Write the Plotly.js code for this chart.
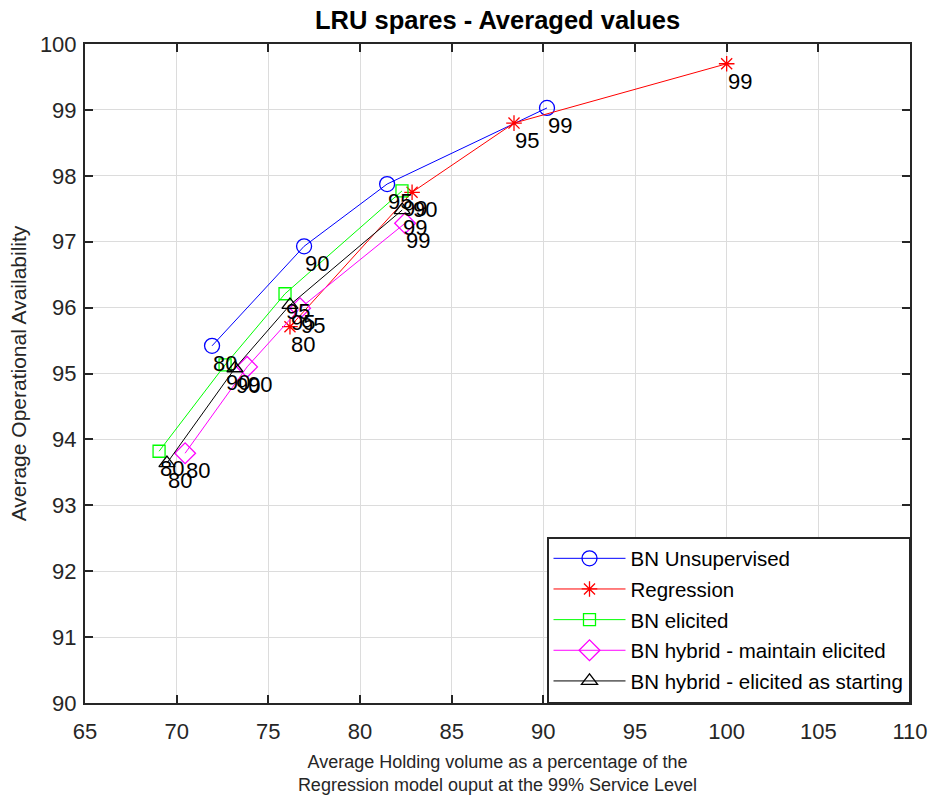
<!DOCTYPE html>
<html>
<head>
<meta charset="utf-8">
<script src="https://cdn.plot.ly/plotly-3.0.1.min.js"></script>
<style>html,body{margin:0;padding:0;background:#fff;}#chart{width:930px;height:798px;}</style>
</head>
<body>
<div id="chart"></div>
<script>
// Data
const seriesNames = ["BN Unsupervised", "Regression", "BN elicited", "BN hybrid - maintain elicited", "BN hybrid - elicited as starting"];
const unsupX = [71.93, 76.95, 81.48, 90.2];
const unsupY = [95.42, 96.93, 97.875, 99.03];
const unsupLabels = ["80", "90", "95", "99"];
const regX = [76.18, 82.84, 88.4, 100.0];
const regY = [95.71, 97.75, 98.8, 99.7];
const regLabels = ["80", "90", "95", "99"];
const elicX = [69.04, 72.64, 75.91, 82.29];
const elicY = [93.82, 95.13, 96.21, 97.77];
const elicLabels = ["80", "90", "95", "99"];
const maintX = [70.46, 73.84, 76.73, 82.46];
const maintY = [93.79, 95.10, 95.99, 97.28];
const maintLabels = ["80", "90", "95", "99"];
const startX = [69.47, 73.18, 76.18, 82.3];
const startY = [93.64, 95.08, 96.04, 97.48];
const startLabels = ["80", "90", "95", "99"];
const xTicks = [65, 70, 75, 80, 85, 90, 95, 100, 105, 110];
const yTicks = [90, 91, 92, 93, 94, 95, 96, 97, 98, 99, 100];

const FONT = "Liberation Sans, Arial, sans-serif";

function tr(name, x, y, color, symbol, size, idx) {
  return {
    type: "scatter", mode: "lines+markers", name: name,
    x: x, y: y, legendgroup: "g" + idx,
    line: {color: color, width: 1},
    marker: {symbol: symbol, size: size, color: color, line: {color: color, width: 1.3}},
    cliponaxis: false
  };
}

const data = [
  tr(seriesNames[0], unsupX, unsupY, "#0000ff", "circle-open", 15, 0),
  tr(seriesNames[1], regX, regY, "#ff0000", "asterisk-open", 13, 1),
  tr(seriesNames[2], elicX, elicY, "#00ff00", "square-open", 12, 2),
  tr(seriesNames[3], maintX, maintY, "#ff00ff", "diamond-open", 16, 3),
  tr(seriesNames[4], startX, startY, "#000000", "triangle-up-open", 14, 4)
];

// point labels (drawn at each data point, like MATLAB text())
const annotations = [];
[[unsupX, unsupY, unsupLabels], [regX, regY, regLabels], [elicX, elicY, elicLabels],
 [maintX, maintY, maintLabels], [startX, startY, startLabels]].forEach(function (s) {
  s[0].forEach(function (xv, i) {
    annotations.push({
      x: xv, y: s[1][i], xref: "x", yref: "y", text: s[2][i], showarrow: false,
      xanchor: "left", yanchor: "top", xshift: -1, yshift: -3,
      font: {family: FONT, size: 22, color: "#000"}
    });
  });
});

const layout = {
  width: 930, height: 798,
  margin: {l: 85, r: 20, t: 44, b: 95},
  paper_bgcolor: "#fff", plot_bgcolor: "#fff",
  font: {family: FONT, color: "#262626"},
  showlegend: true,
  annotations: annotations,
  title: {text: "<b>LRU spares - Averaged values</b>", font: {family: FONT, size: 25.5, color: "#000"}, x: 0.535, xanchor: "center", y: 0.975, yanchor: "middle"},
  xaxis: {
    range: [65, 110], tickvals: xTicks, ticktext: xTicks.map(String),
    showgrid: true, gridcolor: "#dcdcdc", gridwidth: 1, zeroline: false,
    showline: true, linecolor: "#262626", linewidth: 2, mirror: "ticks",
    ticks: "inside", ticklen: 8, tickwidth: 2, tickcolor: "#262626",
    ticklabelstandoff: 8,
    tickfont: {family: FONT, size: 22, color: "#262626"},
    title: {text: "Average Holding volume as a percentage of the<br>Regression model ouput at the 99% Service Level", font: {family: FONT, size: 18, color: "#262626"}, standoff: 12}
  },
  yaxis: {
    range: [90, 100], tickvals: yTicks, ticktext: yTicks.map(String),
    showgrid: true, gridcolor: "#dcdcdc", gridwidth: 1, zeroline: false,
    showline: true, linecolor: "#262626", linewidth: 2, mirror: "ticks",
    ticks: "inside", ticklen: 8, tickwidth: 2, tickcolor: "#262626",
    ticklabelstandoff: 2,
    tickfont: {family: FONT, size: 22, color: "#262626"},
    title: {text: "Average Operational Availability", font: {family: FONT, size: 21, color: "#262626"}, standoff: 8}
  },
  legend: {
    x: 1, y: 0, xanchor: "right", yanchor: "bottom",
    bgcolor: "#fff", bordercolor: "#262626", borderwidth: 1.5,
    font: {family: FONT, size: 20.5, color: "#000"},
    tracegroupgap: 1, itemwidth: 72
  }
};

Plotly.newPlot("chart", data, layout, {displayModeBar: false, staticPlot: true});
</script>
</body>
</html>
